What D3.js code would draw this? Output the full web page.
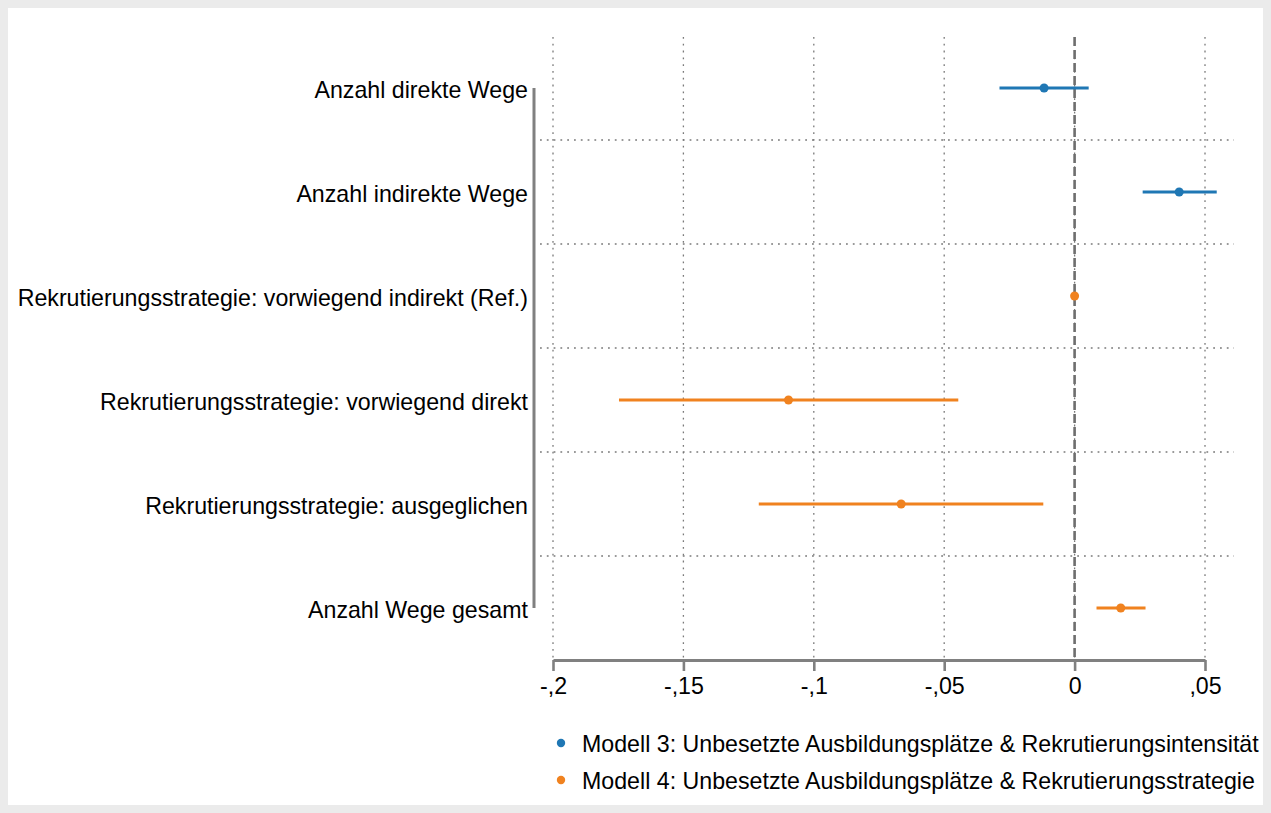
<!DOCTYPE html>
<html>
<head>
<meta charset="utf-8">
<script src="https://cdn.jsdelivr.net/npm/d3@7/dist/d3.min.js"></script>
<style>
  html, body { margin: 0; padding: 0; background: #ebebeb; }
  svg { display: block; }
  text { font-family: "Liberation Sans", Arial, Helvetica, sans-serif; fill: #000; }
</style>
</head>
<body>
<script>
// ---- data ----
const categories = [
  "Anzahl direkte Wege",
  "Anzahl indirekte Wege",
  "Rekrutierungsstrategie: vorwiegend indirekt (Ref.)",
  "Rekrutierungsstrategie: vorwiegend direkt",
  "Rekrutierungsstrategie: ausgeglichen",
  "Anzahl Wege gesamt"
];
const models    = [3, 3, 4, 4, 4, 4];
const estimates = [-0.0117, 0.0401, 0, -0.1097, -0.0665, 0.0177];
const lower     = [-0.0288, 0.0261, 0, -0.1747, -0.1211, 0.0084];
const upper     = [0.0054, 0.0545, 0, -0.0446, -0.0120, 0.0272];
const tickValues = [-0.2, -0.15, -0.1, -0.05, 0, 0.05];
const tickLabels = ["-,2", "-,15", "-,1", "-,05", "0", ",05"];
const legendModels = [3, 4];
const legendLabels = [
  "Modell 3: Unbesetzte Ausbildungsplätze & Rekrutierungsintensität",
  "Modell 4: Unbesetzte Ausbildungsplätze & Rekrutierungsstrategie"
];

// ---- layout ----
const W = 1271, H = 813;
const colors = {3: "#1f77b4", 4: "#f0821f"};
const gridColor = "#7a7a7a";
const axisColor = "#808080";
const fontSize = 23.2;

const svg = d3.select("body").append("svg").attr("width", W).attr("height", H);
svg.append("rect").attr("x", 0).attr("y", 0).attr("width", W).attr("height", H).attr("fill", "#ebebeb");
svg.append("rect").attr("x", 8).attr("y", 8).attr("width", W - 16).attr("height", H - 16).attr("fill", "#fff");

const x = d3.scaleLinear().domain([-0.2, 0.05]).range([553, 1205]);
const y = d3.scalePoint().domain(categories).range([88, 608]);
const gridTop = 37, axisY = 660;

const data = categories.map((c, i) => ({cat: c, model: models[i], est: estimates[i], lo: lower[i], hi: upper[i]}));

// vertical dotted grid
svg.append("g").selectAll("line").data(tickValues).join("line")
  .attr("x1", d => x(d)).attr("x2", d => x(d))
  .attr("y1", gridTop).attr("y2", axisY)
  .attr("stroke", gridColor).attr("stroke-width", 1.3)
  .attr("stroke-dasharray", "1.8,5");

// horizontal dotted grid (between rows)
const mids = categories.slice(1).map((c, i) => (y(categories[i]) + y(c)) / 2);
svg.append("g").selectAll("line").data(mids).join("line")
  .attr("x1", 540).attr("x2", 1234)
  .attr("y1", d => d).attr("y2", d => d)
  .attr("stroke", gridColor).attr("stroke-width", 1.3)
  .attr("stroke-dasharray", "1.8,5");

// reference line at 0
svg.append("line")
  .attr("x1", x(0)).attr("x2", x(0))
  .attr("y1", gridTop).attr("y2", axisY)
  .attr("stroke", "#6e6e6e").attr("stroke-width", 2.6)
  .attr("stroke-dasharray", "9,4");

// x axis
const xAxis = d3.axisBottom(x).tickValues(tickValues)
  .tickFormat((d, i) => tickLabels[i]).tickSize(11).tickSizeOuter(0).tickPadding(7);
const gx = svg.append("g").attr("transform", `translate(0,${axisY})`).call(xAxis);
gx.select(".domain").attr("stroke", axisColor).attr("stroke-width", 3);
gx.selectAll(".tick line").attr("stroke", axisColor).attr("stroke-width", 2.6);
gx.selectAll(".tick text").attr("font-size", fontSize)
  .attr("font-family", '"Liberation Sans", Arial, sans-serif').attr("fill", "#000");

// y axis
const yAxis = d3.axisLeft(y).tickSize(0).tickPadding(6);
const gy = svg.append("g").attr("transform", `translate(534,0)`).call(yAxis);
gy.select(".domain").attr("stroke", axisColor).attr("stroke-width", 3)
  .attr("d", `M0,${y(categories[0])}V${y(categories[categories.length - 1])}`);
gy.selectAll(".tick text").attr("font-size", fontSize).attr("dy", "0.42em")
  .attr("font-family", '"Liberation Sans", Arial, sans-serif').attr("fill", "#000");

// CI lines
svg.append("g").selectAll("line").data(data.filter(d => d.hi !== d.lo)).join("line")
  .attr("x1", d => x(d.lo)).attr("x2", d => x(d.hi))
  .attr("y1", d => y(d.cat)).attr("y2", d => y(d.cat))
  .attr("stroke", d => colors[d.model]).attr("stroke-width", 2.8);

// points
svg.append("g").selectAll("circle").data(data).join("circle")
  .attr("cx", d => x(d.est)).attr("cy", d => y(d.cat)).attr("r", 4.5)
  .attr("fill", d => colors[d.model]);

// legend
const lg = svg.append("g");
const legendY = [743, 780];
legendModels.forEach((m, i) => {
  lg.append("circle").attr("cx", 561).attr("cy", legendY[i]).attr("r", 4.2).attr("fill", colors[m]);
  lg.append("text").attr("x", 582).attr("y", legendY[i]).attr("dy", "0.37em")
    .attr("font-size", fontSize).text(legendLabels[i]);
});
</script>
</body>
</html>
